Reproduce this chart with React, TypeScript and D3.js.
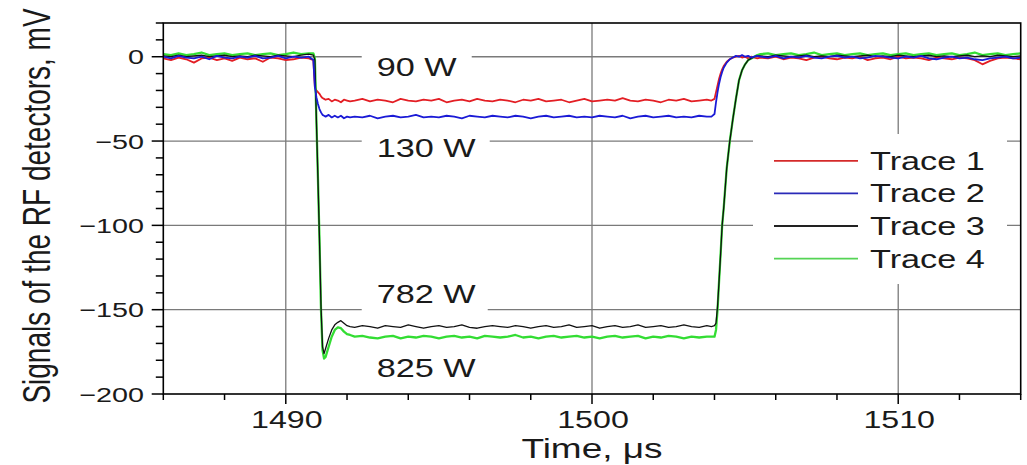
import React from "react";
import * as d3 from "d3";

// ---- data ----
const timeUs: number[] = [
  1486, 1486.25, 1486.5, 1486.75, 1487, 1487.25, 1487.5, 1487.75, 1488, 1488.25, 1488.5, 1488.75, 1489, 1489.25, 1489.5, 1489.75, 1490, 1490.25, 1490.5, 1490.75,
  1490.9, 1490.95, 1491, 1491.05, 1491.1, 1491.15, 1491.2, 1491.25, 1491.3, 1491.4, 1491.5, 1491.6, 1491.7, 1491.8, 1491.9, 1492, 1492.1,
  1492.25, 1492.5, 1492.75, 1493, 1493.25, 1493.5, 1493.75, 1494, 1494.25, 1494.5, 1494.75, 1495, 1495.25, 1495.5, 1495.75, 1496, 1496.25, 1496.5, 1496.75, 1497, 1497.25, 1497.5, 1497.75, 1498, 1498.25, 1498.5, 1498.75, 1499, 1499.25, 1499.5, 1499.75, 1500, 1500.25, 1500.5, 1500.75, 1501, 1501.25, 1501.5, 1501.75, 1502, 1502.25, 1502.5, 1502.75, 1503, 1503.25, 1503.5, 1503.75,
  1503.9, 1504, 1504.05, 1504.1, 1504.15, 1504.2, 1504.25, 1504.3, 1504.4, 1504.5, 1504.6, 1504.7, 1504.8, 1504.9, 1505, 1505.1, 1505.2, 1505.3, 1505.4,
  1505.5, 1505.75, 1506, 1506.25, 1506.5, 1506.75, 1507, 1507.25, 1507.5, 1507.75, 1508, 1508.25, 1508.5, 1508.75, 1509, 1509.25, 1509.5, 1509.75, 1510, 1510.25, 1510.5, 1510.75, 1511, 1511.25, 1511.5, 1511.75, 1512, 1512.25, 1512.5, 1512.75, 1513, 1513.25, 1513.5, 1513.75, 1514,
];

const trace1: number[] = [
  -1, -2, -0.5, -1.5, -3.5, -1, -0.5, -2, -1, -2.5, -0.5, -1.5, -1, -3, -0.5, -1, -2, -1.5, -0.5, -1,
  -2, -18, -20, -21, -22, -23.5, -24.5, -25, -25.5, -25, -26.5, -25.5, -26, -27, -25.5, -26, -26.5,
  -26, -25, -26.5, -25.5, -26, -27, -25, -26, -26.5, -25.5,
  -26, -25, -27, -26, -25.5, -26.5, -25, -26, -26.5, -25.5,
  -26, -27, -25.5, -26, -25, -26.5, -26, -25.5, -27, -26,
  -25, -26.5, -26, -25.5, -26, -24.5, -26, -26.5, -25.5, -26,
  -27, -25.5, -26, -25, -26.5, -26, -25.5,
  -26, -25, -21, -17, -13, -10, -7.5, -5.5, -3, -1.5, -0.5, 0, 0.5, -0.5, 0, -1, 0, -0.5, -1,
  -0.5, -1, 0, -1.5, -0.5, -1, -2, -0.5, 0, -1,
  -1.5, -0.5, -1, 0, -2, -1, -0.5, -1.5, 0, -1,
  -0.5, -1, -2, -0.5, -1, -1.5, -0.5, -1, -2, -4.5,
  -2.5, -1, -0.5, -1, -1.5,
];

const trace2: number[] = [
  0, -1, 0.5, -0.5, -1, 0, -1.5, 0.5, -0.5, -1, 0, -0.5, 0.5, -1, -0.5, 0.5, -1, 0, -0.5, 0,
  -2, -18, -24, -28, -31, -33, -34.5, -35, -35.5, -34.5, -36, -35, -36, -35, -36.5, -35.5, -36,
  -35.5, -36, -35, -36.5, -35.5, -35, -36, -35.5, -34.5, -36,
  -35.5, -36, -35, -35.5, -36.5, -35, -35.5, -36, -35, -35.5,
  -36, -35, -35.5, -36.5, -35.5, -35, -36, -35.5, -35, -36,
  -35.5, -36, -35, -35.5, -36, -35, -36.5, -35.5, -35, -36,
  -35.5, -35, -36, -35.5, -36, -35, -35.5,
  -35.5, -34, -27, -21, -16, -12, -9, -6.5, -3.5, -1.5, -0.5, 0.5, 0, 1, 0, 0.5, -0.5, 0, 0.5,
  0, -0.5, 0.5, -1, 0, -0.5, 0.5, -0.5, -1, 0,
  0.5, -0.5, 0, -1, -0.5, 0.5, 0, -0.5, -1, 0,
  -0.5, 0.5, -1, -1.5, -0.5, 0, -1, -0.5, -1.5, -2,
  -1, -0.5, 0, -1, -0.5,
];

const trace3: number[] = [
  0.5, 0, 1, 0, 0.5, 1, 0, 0.5, 1, 0, 0.5, 0, 1, 0.5, 0, 1, 0.5, 0, 1, 1.5,
  1, -2, -38, -72, -108, -148, -172, -176, -173, -167, -162, -159, -157.5, -156.5, -158, -159.5, -160,
  -160.5, -159.5, -160, -161, -159.5, -160, -160.5, -159, -160, -161,
  -160, -159.5, -160.5, -160, -159, -160.5, -161, -160, -159.5, -160,
  -160.5, -159.5, -160, -161, -160, -159.5, -160.5, -160, -159, -160.5,
  -160, -159.5, -161, -160, -159.5, -160.5, -160, -159, -160.5, -160,
  -159.5, -160.5, -160, -159, -160, -160.5, -159.5,
  -160, -159.5, -158, -148, -133, -117, -100, -90, -66, -50, -37, -25, -14, -8, -4.5, -2, -1, 0, 0.5,
  0.5, 0, 1, 0.5, 0, 0.5, 1, 0, 0.5, 0,
  1, 0.5, 0, 0.5, 1, 0, 0.5, 0, 1, 0.5,
  0, 0.5, 1, 0, 0.5, 0, 0.5, 1, 0, 0.5,
  0, 1, 0.5, 0, 0.5,
];

const trace4: number[] = [
  1.5, 1, 2, 1, 1.5, 2.5, 1, 1.5, 2, 1, 1.5, 2, 1, 1.5, 2, 1, 1.5, 2.5, 1.5, 2,
  2, -1, -38, -72, -108, -150, -174, -179, -178, -172, -166, -162, -160.5, -161, -163, -164.5, -165,
  -166, -165.5, -166.5, -167, -166, -165.5, -167, -166, -166.5, -165.5,
  -166, -167, -166, -165.5, -166.5, -166, -167, -165.5, -166, -166.5,
  -166, -165, -166.5, -166, -167, -166, -165.5, -166.5, -166, -165.5,
  -166.5, -166, -167, -166, -165.5, -166.5, -166, -165.5, -167, -166,
  -166.5, -165.5, -166, -167, -166, -166.5, -166,
  -166, -166, -162, -150, -133, -117, -100, -90, -66, -50, -37, -25, -14, -8, -4.5, -2, -1, 0, 1,
  1.5, 2, 1, 1.5, 2, 1, 1.5, 2.5, 1, 1.5,
  2, 1, 1.5, 2, 1, 1.5, 2, 1, 1.5, 2,
  1, 1.5, 2, 1, 1.5, 2, 1, 1.5, 2.5, 1,
  1.5, 2, 1, 1.5, 2,
];

const seriesNames = ["Trace 1", "Trace 2", "Trace 3", "Trace 4"];
const seriesValues = [trace1, trace2, trace3, trace4];
const seriesColors = ["#e31e24", "#1a1ad6", "#111111", "#33dd33"];
const legendColors = ["#d42a2a", "#2a2ab8", "#222222", "#55d455"];
const drawOrder = [0, 3, 2, 1];

const xMajorTicks = [1490, 1500, 1510];
const yMajorTicks = [0, -50, -100, -150, -200];
const yTickLabels = ["0", "\u221250", "\u2212100", "\u2212150", "\u2212200"];
const xTickLabels = ["1490", "1500", "1510"];

const powerLabels = ["90 W", "130 W", "782 W", "825 W"];
const powerLabelAt = [
  { t: 1492.97, v: -11.2, w: 80 },
  { t: 1492.97, v: -59.3, w: 98 },
  { t: 1492.97, v: -146.3, w: 96 },
  { t: 1492.97, v: -189.8, w: 98 },
];

// ---- layout ----
const W = 1027;
const H = 465;
const L = 163.3;
const R = 1020.7;
const TOP = 23;
const BOT = 394;
const SX = 1.37;
const FONT = "'Liberation Sans', Arial, Helvetica, sans-serif";

function Txt(props: {
  x: number;
  y: number;
  size: number;
  anchor?: string;
  rotate?: boolean;
  children: React.ReactNode;
}) {
  const { x, y, size, anchor = "start", rotate = false, children } = props;
  const tr = `translate(${x},${y}) scale(${SX},1)${rotate ? " rotate(-90)" : ""}`;
  return (
    <text transform={tr} fontSize={size} textAnchor={anchor as any} fontFamily={FONT} fill="#1a1a1a">
      {children}
    </text>
  );
}

export default function App() {
  const x = d3.scaleLinear().domain([1486, 1514]).range([L, R]);
  const y = d3.scaleLinear().domain([-200, 20]).range([BOT, TOP]);

  const line = d3
    .line<number>()
    .x((_, i) => x(timeUs[i]))
    .y((v) => y(v));

  const xMinor = d3.range(1486, 1514.01, 2);
  const yMinor = d3.range(-200, 20.01, 10);

  const legendY0 = 160.8;
  const legendDY = 32.6;

  return (
    <div style={{ position: "fixed", left: 0, top: 0, width: W, height: H, background: "#fff" }}>
      <svg width={W} height={H} viewBox={`0 0 ${W} ${H}`} style={{ display: "block" }}>
        <rect x={0} y={0} width={W} height={H} fill="#fff" />

        {/* grid */}
        {xMajorTicks.map((t) => (
          <line key={"gx" + t} x1={x(t)} x2={x(t)} y1={TOP} y2={BOT} stroke="#7a7a7a" strokeWidth={1.3} />
        ))}
        {yMajorTicks
          .filter((v) => v > -200)
          .map((v) => (
            <line key={"gy" + v} x1={L} x2={R} y1={y(v)} y2={y(v)} stroke="#7a7a7a" strokeWidth={1.3} />
          ))}

        {/* white boxes behind annotations and legend */}
        {powerLabelAt.map((p, i) => {
          const tx = x(p.t);
          const by = y(p.v);
          return <rect key={"pb" + i} x={tx - 15} y={by - 26} width={p.w + 30} height={36} fill="#fff" />;
        })}
        <rect x={753} y={134} width={254} height={150} fill="#fff" />

        {/* traces */}
        {drawOrder.map((si) => (
          <path
            key={"s" + si}
            d={line(seriesValues[si]) || ""}
            fill="none"
            stroke={seriesColors[si]}
            strokeWidth={si === 3 ? 2.3 : si === 2 ? 1.3 : 1.8}
            strokeLinejoin="round"
          />
        ))}

        {/* frame */}
        <rect x={L} y={TOP} width={R - L} height={BOT - TOP} fill="none" stroke="#000" strokeWidth={1.6} />

        {/* ticks */}
        {yMinor.map((v) => (
          <line
            key={"ty" + v}
            x1={L - (v % 50 === 0 ? 11.6 : 7.5)}
            x2={L}
            y1={y(v)}
            y2={y(v)}
            stroke="#000"
            strokeWidth={1.5}
          />
        ))}
        {xMinor.map((t) => (
          <line
            key={"tx" + t}
            x1={x(t)}
            x2={x(t)}
            y1={BOT}
            y2={BOT + (t % 10 === 0 ? 10 : 6)}
            stroke="#000"
            strokeWidth={1.5}
          />
        ))}

        {/* tick labels */}
        {yMajorTicks.map((v, i) => (
          <Txt key={"ly" + v} x={144} y={y(v) + 7.6} size={21} anchor="end">
            {yTickLabels[i]}
          </Txt>
        ))}
        {xMajorTicks.map((t, i) => (
          <Txt key={"lx" + t} x={x(t) + 1} y={428.3} size={23.5} anchor="middle">
            {xTickLabels[i]}
          </Txt>
        ))}

        {/* axis titles */}
        <Txt x={(L + R) / 2} y={458.3} size={27} anchor="middle">
          Time, μs
        </Txt>
        <Txt x={50} y={206} size={28} anchor="middle" rotate>
          Signals of the RF detectors, mV
        </Txt>

        {/* power annotations */}
        {powerLabelAt.map((p, i) => (
          <Txt key={"pl" + i} x={x(p.t)} y={y(p.v)} size={25}>
            {powerLabels[i]}
          </Txt>
        ))}

        {/* legend */}
        {seriesNames.map((name, i) => {
          const ly = legendY0 + i * legendDY;
          return (
            <g key={"lg" + i}>
              <line x1={774} x2={858} y1={ly} y2={ly} stroke={legendColors[i]} strokeWidth={1.8} />
              <Txt x={870} y={ly + 9} size={25}>
                {name}
              </Txt>
            </g>
          );
        })}
      </svg>
    </div>
  );
}
